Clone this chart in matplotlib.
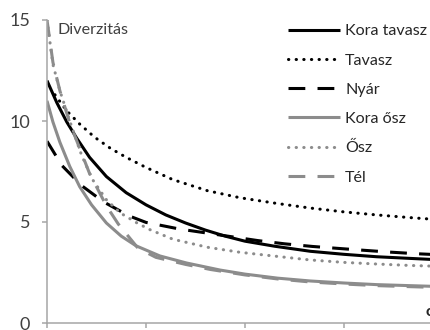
import matplotlib
matplotlib.use("Agg")
import matplotlib.pyplot as plt

plt.rcParams['font.family'] = ['Lato', 'DejaVu Sans']

# Data
x_kt = [0, 0.1, 0.2, 0.3, 0.43, 0.6, 0.8, 1.0, 1.2, 1.4, 1.6, 1.8, 2.0, 2.3, 2.66, 3.0, 3.33, 3.66, 4.0]
y_kt = [12.0, 10.9, 9.95, 9.15, 8.2, 7.25, 6.45, 5.85, 5.35, 4.95, 4.6, 4.3, 4.05, 3.8, 3.55, 3.4, 3.28, 3.2, 3.12]

x_t = [0.08, 0.2, 0.33, 0.48, 0.64, 0.8, 1.0, 1.27, 1.62, 1.95, 2.32, 2.66, 3.0, 3.33, 3.66, 4.0]
y_t = [11.3, 10.5, 9.85, 9.2, 8.65, 8.2, 7.7, 7.1, 6.55, 6.2, 5.92, 5.69, 5.5, 5.35, 5.22, 5.1]

x_ny = [0, 0.15, 0.35, 0.57, 0.83, 1.0, 1.34, 1.62, 1.88, 2.13, 2.4, 2.68, 2.95, 3.2, 3.46, 3.73, 4.0]
y_ny = [9.0, 7.8, 6.8, 6.0, 5.3, 4.98, 4.65, 4.45, 4.26, 4.08, 3.92, 3.79, 3.69, 3.6, 3.51, 3.43, 3.37]

x_ko = [0, 0.06, 0.13, 0.23, 0.33, 0.45, 0.6, 0.75, 0.9, 1.14, 1.41, 1.75, 2.0, 2.33, 2.66, 3.0, 3.33, 3.66, 4.0]
y_ko = [11.0, 9.95, 8.95, 7.75, 6.75, 5.85, 4.95, 4.3, 3.82, 3.32, 2.97, 2.62, 2.42, 2.22, 2.08, 1.98, 1.9, 1.85, 1.8]

x_o = [0, 0.06, 0.13, 0.23, 0.35, 0.46, 0.6, 0.74, 0.91, 1.04, 1.27, 1.62, 1.95, 2.32, 2.66, 3.0, 3.33, 3.66, 4.0]
y_o = [15.0, 12.8, 11.5, 10.0, 8.3, 7.1, 6.1, 5.45, 4.95, 4.62, 4.15, 3.75, 3.5, 3.3, 3.12, 3.0, 2.92, 2.85, 2.8]

x_tel = [0, 0.06, 0.13, 0.23, 0.35, 0.43, 0.6, 0.72, 0.92, 1.1, 1.4, 1.65, 2.0, 2.33, 2.66, 3.0, 3.33, 3.66, 4.0]
y_tel = [15.0, 12.9, 11.5, 9.9, 8.4, 7.4, 5.8, 4.9, 3.7, 3.25, 2.9, 2.65, 2.38, 2.18, 2.03, 1.93, 1.85, 1.8, 1.75]

labels = ["Kora tavasz", "Tavasz", "Nyár", "Kora ősz", "Ősz", "Tél"]
y_ticks = [0, 5, 10, 15]
x_ticks = [0, 1, 2, 3]

black = "#000000"
gray = "#8c8c8c"
lw = 2.2
FS = 11.6

fig = plt.figure(figsize=(4.31, 3.30), dpi=100)
W, H = 431, 330
ax = fig.add_axes([47 / W, 7 / H, 396 / W, 303 / H])

ax.plot(x_kt, y_kt, color=black, lw=lw, label=labels[0], solid_capstyle='butt')
ax.plot(x_t, y_t, color=black, lw=lw, linestyle=(0, (0.1, 2.4)),
        dash_capstyle='round', label=labels[1])
ax.plot(x_ny, y_ny, color=black, lw=lw, linestyle=(0, (5.5, 4)), label=labels[2])
ax.plot(x_ko, y_ko, color=gray, lw=lw, label=labels[3], solid_capstyle='butt')
ax.plot(x_o, y_o, color=gray, lw=lw, linestyle=(0, (0.1, 2.4)),
        dash_capstyle='round', label=labels[4])
ax.plot(x_tel, y_tel, color=gray, lw=lw, linestyle=(0, (5.5, 4)), label=labels[5])

ax.set_xlim(0, 4)
ax.set_ylim(0, 15)
ax.set_yticks(y_ticks)
ax.set_xticks(x_ticks)
ax.set_xticklabels([])
for s in ['top', 'right']:
    ax.spines[s].set_visible(False)
for s in ['left', 'bottom']:
    ax.spines[s].set_color('#a6a6a6')
    ax.spines[s].set_linewidth(1.1)
ax.tick_params(axis='both', direction='out', length=3.6, width=1.1, color='#a6a6a6',
               labelsize=13, labelcolor='#404040', pad=8.6)

fig.text(58 / W, 1 - 30 / H, "Diverzitás", fontsize=FS,
         color='#404040', va='center', ha='left')

leg = ax.legend(loc='upper left', bbox_to_anchor=(288 / W, 1 - 24 / H),
                bbox_transform=fig.transFigure, frameon=False, fontsize=FS,
                handlelength=3.23, handletextpad=0.31, labelspacing=0.93,
                borderaxespad=0, borderpad=0)
for t in leg.get_texts():
    t.set_color('#262626')

fig.text(426 / W, 1 - 312 / H, "c", fontsize=FS, fontweight='bold', color='#262626',
         va='center', ha='left')

fig.savefig("out.png", dpi=100)
